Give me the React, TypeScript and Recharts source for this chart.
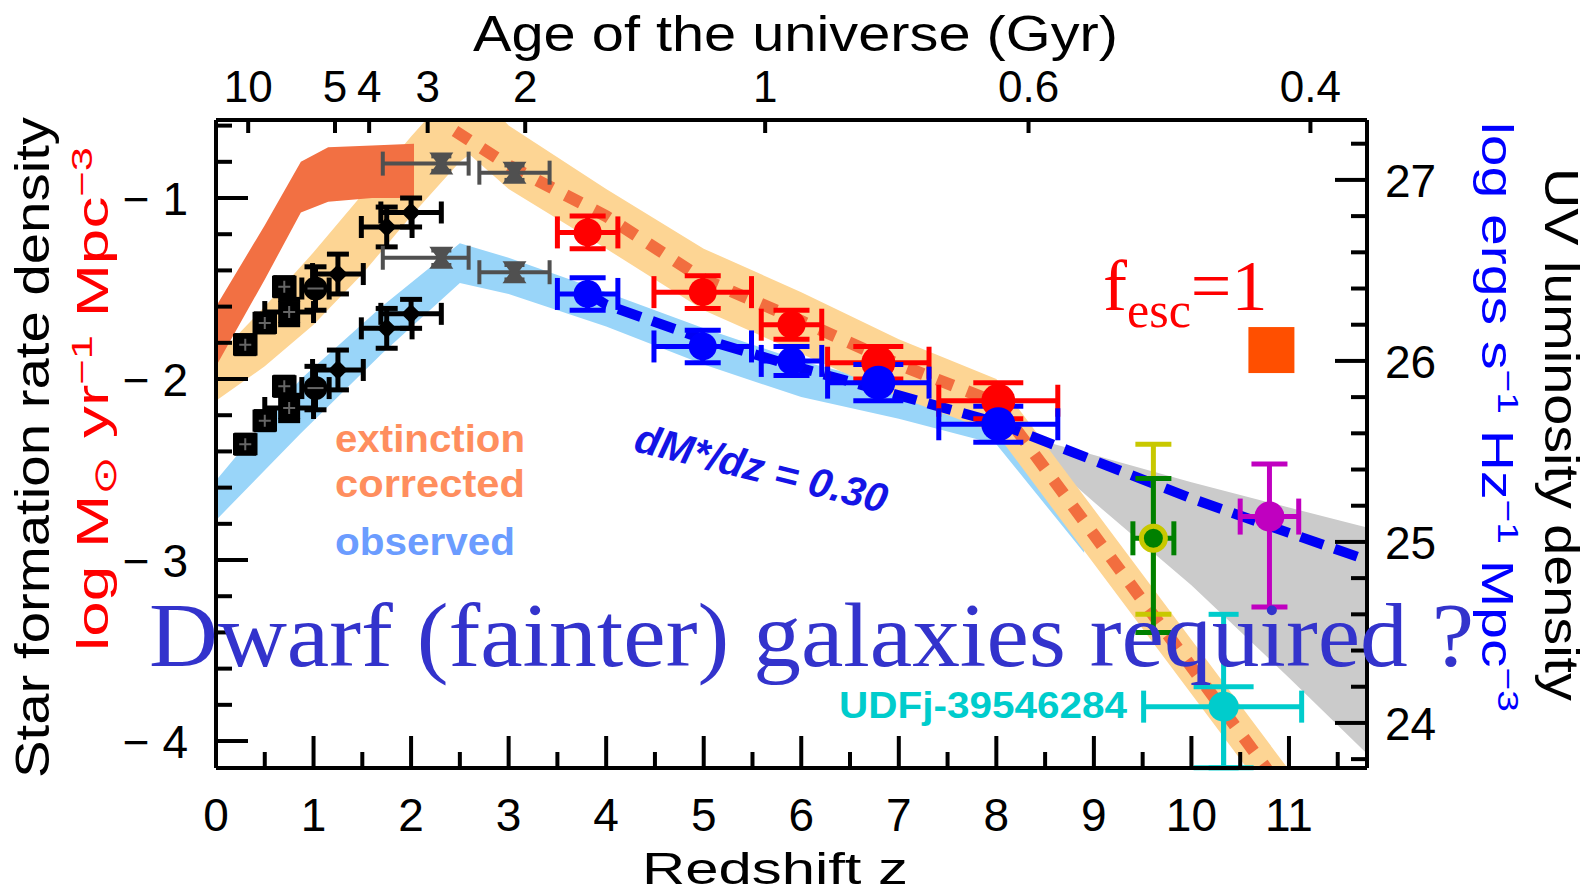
import React from "react";
import { ComposedChart, Area, Line, Scatter, XAxis, YAxis, ErrorBar } from "recharts";

// bands: redshift z and log SFR density edges
const darkBandZ = [0, 0.5, 0.87, 1.15, 1.6, 2.03];
const darkBandLo = [-1.93, -1.45, -1.08, -1.02, -1.0, -1.0];
const darkBandHi = [-1.6, -1.15, -0.8, -0.72, -0.71, -0.7];

const orangeBandZ = [0, 0.5, 1, 1.5, 2, 2.5, 2.6, 3, 4, 5, 6, 7, 8, 9, 10, 11, 11.8];
const orangeBandLo = [-2.12, -1.93, -1.7, -1.42, -1.1, -0.8, -0.76, -0.95, -1.28, -1.62, -1.86, -2.1, -2.3, -3.02, -3.74, -4.46, -5.04];
const orangeBandHi = [-1.88, -1.6, -1.3, -0.98, -0.66, -0.36, -0.36, -0.6, -0.95, -1.28, -1.52, -1.78, -2.0, -2.72, -3.44, -4.16, -4.74];

const blueBandZ = [0, 0.87, 1.7, 2.5, 3, 4, 5, 6, 7, 8, 8.9];
const blueBandLo = [-2.78, -2.3, -1.86, -1.47, -1.53, -1.71, -1.92, -2.1, -2.22, -2.36, -2.96];
const blueBandHi = [-2.56, -2.0, -1.6, -1.25, -1.33, -1.52, -1.72, -1.9, -2.04, -2.2, -2.85];

const grayBandZ = [8.26, 9, 10, 11, 11.8];
const grayBandLo = [-2.33, -2.68, -3.14, -3.65, -4.07];
const grayBandHi = [-2.31, -2.42, -2.57, -2.71, -2.82];

const dashOrangeZ = [2.45, 3, 4, 5, 6, 7, 8, 9, 10, 11];
const dashOrangeY = [-0.63, -0.82, -1.1, -1.45, -1.68, -1.92, -2.13, -2.86, -3.59, -4.32];

const dashBlueZ = [3.8, 4, 5, 6, 7, 8, 9, 10, 11, 11.8];
const dashBlueY = [-1.52, -1.59, -1.78, -1.94, -2.09, -2.24, -2.45, -2.66, -2.85, -3.0];

// low-z points (black)
const lowZ = [0.3, 0.5, 0.7, 0.75, 1.02, 1.25, 1.75, 2.0];
const lowZerr = [0.1, 0.1, 0.1, 0.25, 0.14, 0.26, 0.26, 0.31];
const lowCorr = [-1.81, -1.69, -1.49, -1.63, -1.5, -1.42, -1.16, -1.08];
const lowObs = [-2.36, -2.23, -2.04, -2.16, -2.05, -1.95, -1.72, -1.64];
const lowYerr = [0.05, 0.05, 0.05, 0.07, 0.12, 0.11, 0.11, 0.08];

// z~2-3 points (gray)
const midZ = [2.31, 3.06];
const midZlo = [0.6, 0.36];
const midZhi = [0.28, 0.36];
const midCorr = [-0.81, -0.86];
const midObs = [-1.33, -1.41];
const midYerr = [0.04, 0.04];

// LBG points z~4-8
const lbgZ = [3.81, 4.99, 5.9, 6.79, 8.02];
const lbgZerr = [0.31, 0.5, 0.31, 0.52, 0.61];
const lbgCorr = [-1.19, -1.52, -1.7, -1.91, -2.12];
const lbgObs = [-1.53, -1.82, -1.9, -2.02, -2.25];
const lbgCorrErr = [0.09, 0.09, 0.08, 0.09, 0.1];
const lbgObsErr = [0.09, 0.09, 0.08, 0.1, 0.1];

// high-z points
const z10Z = [9.61];
const z10Y = [-2.88];
const z10Zerr = [0.21];
const z10ErrIn = [[0.52, 0.33]];
const z10ErrOut = [[0.42, 0.52]];

const z11Z = [10.8];
const z11Y = [-2.76];
const z11Zerr = [0.3];
const z11Yerr = [[0.5, 0.29]];

const udfZ = [10.33];
const udfY = [-3.81];
const udfZerr = [[0.82, 0.8]];
const udfErrIn = [[0.338, 0.11]];
const udfErrOut = [[0.338, 0.51]];

const fescZ = [10.82];
const fescY = [-1.84];

// axes
const bottomTicks = [0, 0.5, 1, 1.5, 2, 2.5, 3, 3.5, 4, 4.5, 5, 5.5, 6, 6.5, 7, 7.5, 8, 8.5, 9, 9.5, 10, 10.5, 11, 11.5];
const leftTicks = [-4, -3.8, -3.6, -3.4, -3.2, -3, -2.8, -2.6, -2.4, -2.2, -2, -1.8, -1.6, -1.4, -1.2, -1, -0.8, -0.6];
const rightTicks = [23.8, 24, 24.2, 24.4, 24.6, 24.8, 25, 25.2, 25.4, 25.6, 25.8, 26, 26.2, 26.4, 26.6, 26.8, 27, 27.2];
const ageZ = [0.33, 1.22, 1.57, 2.17, 3.17, 5.63, 8.33, 11.22];
const ageLabels = ["10", "5", "4", "3", "2", "1", "0.6", "0.4"];

const Y_MIN = -4.149;
const Y_MAX = -0.569;
const UV_OFFSET = 27.9;
const Z_MAX = 11.8;

const W = 1594;
const H = 892;
const SANS = "'Liberation Sans', Arial, Helvetica, sans-serif";
const SERIF = "'Liberation Serif', 'Times New Roman', serif";

const band = (z: number[], lo: number[], hi: number[]) =>
  z.map((v, i) => ({ z: v, range: [lo[i], hi[i]] }));
const line = (z: number[], y: number[]) => z.map((v, i) => ({ z: v, y: y[i] }));
const pts = (z: number[], y: number[], ex: any[], ey: any[], ey2?: any[]) =>
  z.map((v, i) => ({ z: v, y: y[i], ex: ex[i], ey: ey[i], ey2: ey2 ? ey2[i] : 0 }));

const isMajor = (v: number) => Math.abs(v - Math.round(v)) < 1e-6;

const BottomTick = (p: any) => {
  const v = p.payload.value;
  const major = isMajor(v);
  return (
    <g>
      <line x1={p.x} y1={p.y} x2={p.x} y2={p.y - (major ? 32 : 16)} stroke="#000" strokeWidth={4} />
      {major && (
        <text x={p.x} y={p.y + 63} textAnchor="middle" fontSize={46} fontFamily={SANS} fill="#000">
          {v}
        </text>
      )}
    </g>
  );
};

const TopTick = (p: any) => {
  const idx = ageZ.indexOf(p.payload.value);
  return (
    <g>
      <line x1={p.x} y1={p.y} x2={p.x} y2={p.y + 13} stroke="#000" strokeWidth={4} />
      <text x={p.x} y={p.y - 18} textAnchor="middle" fontSize={44} fontFamily={SANS} fill="#000">
        {ageLabels[idx]}
      </text>
    </g>
  );
};

const LeftTick = (p: any) => {
  const v = p.payload.value;
  const major = isMajor(v);
  return (
    <g>
      <line x1={p.x} y1={p.y} x2={p.x + (major ? 32 : 16)} y2={p.y} stroke="#000" strokeWidth={4} />
      {major && (
        <text x={p.x - 28} y={p.y + 17} textAnchor="end" fontSize={46} fontFamily={SANS} fill="#000">
          {"\u2212 " + Math.abs(Math.round(v))}
        </text>
      )}
    </g>
  );
};

const RightTick = (p: any) => {
  const v = p.payload.value;
  const major = isMajor(v);
  return (
    <g>
      <line x1={p.x} y1={p.y} x2={p.x - (major ? 32 : 16)} y2={p.y} stroke="#000" strokeWidth={4} />
      {major && (
        <text x={p.x + 18} y={p.y + 17} textAnchor="start" fontSize={46} fontFamily={SANS} fill="#000">
          {Math.round(v)}
        </text>
      )}
    </g>
  );
};

const dot = (r: number, fill: string, stroke = "none", sw = 0) => (p: any) =>
  <circle cx={p.cx} cy={p.cy} r={r} fill={fill} stroke={stroke} strokeWidth={sw} />;

const squareShape = (p: any) => (
  <g>
    <rect x={p.cx - 11} y={p.cy - 11} width={22} height={22} fill="#000" />
    <path d={`M${p.cx - 6},${p.cy}H${p.cx + 6}M${p.cx},${p.cy - 6}V${p.cy + 6}`} stroke="#666" strokeWidth={2} />
  </g>
);
const circleShape = (p: any) => (
  <g>
    <circle cx={p.cx} cy={p.cy} r={12} fill="#000" />
    <line x1={p.cx - 8} y1={p.cy} x2={p.cx + 8} y2={p.cy} stroke="#666" strokeWidth={2} />
  </g>
);
const plusShape = (p: any) => (
  <rect x={p.cx - 7} y={p.cy - 7} width={14} height={14} fill="#000" transform={`rotate(45 ${p.cx} ${p.cy})`} />
);
const hourglass = (p: any) => (
  <polygon
    points={`${p.cx - 12},${p.cy - 11} ${p.cx + 12},${p.cy - 11} ${p.cx + 4},${p.cy} ${p.cx + 12},${p.cy + 11} ${p.cx - 12},${p.cy + 11} ${p.cx - 4},${p.cy}`}
    fill="#505050"
  />
);
const fescSquare = (p: any) => <rect x={p.cx - 23} y={p.cy - 23} width={46} height={46} fill="#ff4f00" />;

// ErrorBar "width" is the cap half-length
const eb = (key: string, dir: "x" | "y", half: number, color: string, sw = 5) => (
  <ErrorBar dataKey={key} direction={dir} width={half} stroke={color} strokeWidth={sw} isAnimationActive={false} />
);

export default function App() {
  const lowC = pts(lowZ, lowCorr, lowZerr, lowYerr);
  const lowO = pts(lowZ, lowObs, lowZerr, lowYerr);
  const midExs = midZ.map((_, i) => [midZlo[i], midZhi[i]]);
  const midC = pts(midZ, midCorr, midExs, midYerr);
  const midO = pts(midZ, midObs, midExs, midYerr);
  const lbgC = pts(lbgZ, lbgCorr, lbgZerr, lbgCorrErr);
  const lbgO = pts(lbgZ, lbgObs, lbgZerr, lbgObsErr);
  const axisLine = { stroke: "#000", strokeWidth: 4 };

  return (
    <div style={{ position: "absolute", left: 0, top: 0, width: W, height: H, background: "#fff" }}>
      <ComposedChart width={W} height={H} margin={{ top: 60, right: 167, bottom: 64, left: 156 }}>
        <Area xAxisId="b" yAxisId="l" data={band(grayBandZ, grayBandLo, grayBandHi)} dataKey="range" type="linear"
          stroke="none" fill="#cbcbcb" fillOpacity={1} dot={false} activeDot={false} isAnimationActive={false} />
        <Area xAxisId="b" yAxisId="l" data={band(blueBandZ, blueBandLo, blueBandHi)} dataKey="range" type="linear"
          stroke="none" fill="#99d5f9" fillOpacity={1} dot={false} activeDot={false} isAnimationActive={false} />
        <Area xAxisId="b" yAxisId="l" data={band(orangeBandZ, orangeBandLo, orangeBandHi)} dataKey="range" type="linear"
          stroke="none" fill="#fdd594" fillOpacity={1} dot={false} activeDot={false} isAnimationActive={false} />
        <Area xAxisId="b" yAxisId="l" data={band(darkBandZ, darkBandLo, darkBandHi)} dataKey="range" type="linear"
          stroke="none" fill="#f27043" fillOpacity={1} dot={false} activeDot={false} isAnimationActive={false} />

        <Line xAxisId="b" yAxisId="l" data={line(dashOrangeZ, dashOrangeY)} dataKey="y" type="linear"
          stroke="#f26e3f" strokeWidth={12} strokeDasharray="17 15" dot={false} activeDot={false} isAnimationActive={false} />
        <Line xAxisId="b" yAxisId="l" data={line(dashBlueZ, dashBlueY)} dataKey="y" type="linear"
          stroke="#0000f5" strokeWidth={10} strokeDasharray="24 12" dot={false} activeDot={false} isAnimationActive={false} />

        {/* low-z black points */}
        <Scatter xAxisId="b" yAxisId="l" data={lowC.slice(0, 4)} dataKey="y" shape={squareShape} isAnimationActive={false}>
          {eb("ex", "x", 11, "#000")}{eb("ey", "y", 11, "#000")}
        </Scatter>
        <Scatter xAxisId="b" yAxisId="l" data={lowC.slice(4, 5)} dataKey="y" shape={circleShape} isAnimationActive={false}>
          {eb("ex", "x", 11, "#000")}{eb("ey", "y", 11, "#000")}
        </Scatter>
        <Scatter xAxisId="b" yAxisId="l" data={lowC.slice(5)} dataKey="y" shape={plusShape} isAnimationActive={false}>
          {eb("ex", "x", 11, "#000")}{eb("ey", "y", 11, "#000")}
        </Scatter>
        <Scatter xAxisId="b" yAxisId="l" data={lowO.slice(0, 4)} dataKey="y" shape={squareShape} isAnimationActive={false}>
          {eb("ex", "x", 11, "#000")}{eb("ey", "y", 11, "#000")}
        </Scatter>
        <Scatter xAxisId="b" yAxisId="l" data={lowO.slice(4, 5)} dataKey="y" shape={circleShape} isAnimationActive={false}>
          {eb("ex", "x", 11, "#000")}{eb("ey", "y", 11, "#000")}
        </Scatter>
        <Scatter xAxisId="b" yAxisId="l" data={lowO.slice(5)} dataKey="y" shape={plusShape} isAnimationActive={false}>
          {eb("ex", "x", 11, "#000")}{eb("ey", "y", 11, "#000")}
        </Scatter>

        {/* z~2-3 gray points */}
        <Scatter xAxisId="b" yAxisId="l" data={midC} dataKey="y" shape={hourglass} isAnimationActive={false}>
          {eb("ex", "x", 12, "#505050", 4)}{eb("ey", "y", 10, "#505050", 4)}
        </Scatter>
        <Scatter xAxisId="b" yAxisId="l" data={midO} dataKey="y" shape={hourglass} isAnimationActive={false}>
          {eb("ex", "x", 12, "#505050", 4)}{eb("ey", "y", 10, "#505050", 4)}
        </Scatter>

        {/* LBG corrected (red) and observed (blue) */}
        <Scatter xAxisId="b" yAxisId="l" data={lbgC.slice(0, 3)} dataKey="y" shape={dot(14, "#ff0000")} isAnimationActive={false}>
          {eb("ex", "x", 16, "#ff0000")}{eb("ey", "y", 18, "#ff0000")}
        </Scatter>
        <Scatter xAxisId="b" yAxisId="l" data={lbgC.slice(3)} dataKey="y" shape={dot(17, "#ff0000")} isAnimationActive={false}>
          {eb("ex", "x", 16, "#ff0000")}{eb("ey", "y", 25, "#ff0000")}
        </Scatter>
        <Scatter xAxisId="b" yAxisId="l" data={lbgO.slice(0, 3)} dataKey="y" shape={dot(14, "#0000ff")} isAnimationActive={false}>
          {eb("ex", "x", 16, "#0000ff")}{eb("ey", "y", 18, "#0000ff")}
        </Scatter>
        <Scatter xAxisId="b" yAxisId="l" data={lbgO.slice(3)} dataKey="y" shape={dot(17, "#0000ff")} isAnimationActive={false}>
          {eb("ex", "x", 16, "#0000ff")}{eb("ey", "y", 25, "#0000ff")}
        </Scatter>

        {/* z~10 candidates */}
        <Scatter xAxisId="b" yAxisId="l" data={pts(z10Z, z10Y, z10Zerr, z10ErrOut)} dataKey="y" shape={() => <g />} isAnimationActive={false}>
          {eb("ey", "y", 18, "#c8c800")}
        </Scatter>
        <Scatter xAxisId="b" yAxisId="l" data={pts(z10Z, z10Y, z10Zerr, z10ErrIn)} dataKey="y"
          shape={dot(12, "#008000", "#c8c800", 5)} isAnimationActive={false}>
          {eb("ey", "y", 18, "#008000")}{eb("ex", "x", 17, "#008000")}
        </Scatter>
        <Scatter xAxisId="b" yAxisId="l" data={pts(z11Z, z11Y, z11Zerr, z11Yerr)} dataKey="y" shape={dot(15, "#c000c0")} isAnimationActive={false}>
          {eb("ey", "y", 18, "#c000c0")}{eb("ex", "x", 18, "#c000c0")}
        </Scatter>
        <Scatter xAxisId="b" yAxisId="l" data={pts(udfZ, udfY, udfZerr, udfErrOut, udfErrIn)} dataKey="y" shape={dot(15, "#00cccc")} isAnimationActive={false}>
          {eb("ey", "y", 15, "#00cccc")}{eb("ey2", "y", 30, "#00cccc")}{eb("ex", "x", 16, "#00cccc")}
        </Scatter>
        <Scatter xAxisId="b" yAxisId="l" data={line(fescZ, fescY)} dataKey="y" shape={fescSquare} isAnimationActive={false} />

        <XAxis xAxisId="b" dataKey="z" type="number" domain={[0, Z_MAX]} allowDataOverflow ticks={bottomTicks} interval={0}
          height={60} tickSize={0} tickMargin={0} tickLine={false} axisLine={axisLine} tick={BottomTick} />
        <XAxis xAxisId="t" orientation="top" dataKey="z" type="number" domain={[0, Z_MAX]} allowDataOverflow ticks={ageZ} interval={0}
          height={60} tickSize={0} tickMargin={0} tickLine={false} axisLine={axisLine} tick={TopTick} />
        <YAxis yAxisId="l" dataKey="y" type="number" domain={[Y_MIN, Y_MAX]} allowDataOverflow ticks={leftTicks} interval={0}
          width={60} tickSize={0} tickMargin={0} tickLine={false} axisLine={axisLine} tick={LeftTick} />
        <YAxis yAxisId="r" orientation="right" type="number" domain={[Y_MIN + UV_OFFSET, Y_MAX + UV_OFFSET]} allowDataOverflow
          ticks={rightTicks} interval={0} width={60} tickSize={0} tickMargin={0} tickLine={false} axisLine={axisLine} tick={RightTick} />
      </ComposedChart>

      <svg width={W} height={H} style={{ position: "absolute", left: 0, top: 0, pointerEvents: "none" }}>
        <text x={473} y={51} fontSize={50} fontFamily={SANS} textLength={645} lengthAdjust="spacingAndGlyphs">
          Age of the universe (Gyr)
        </text>
        <text x={642} y={884} fontSize={44} fontFamily={SANS} textLength={266} lengthAdjust="spacingAndGlyphs">
          Redshift z
        </text>
        <text transform="translate(49,778) rotate(-90)" fontSize={48} fontFamily={SANS} textLength={661} lengthAdjust="spacingAndGlyphs">
          Star formation rate density
        </text>
        <text transform="translate(108,651) rotate(-90)" fontSize={44} fontFamily={SANS} fill="#ff0000"
          textLength={504} lengthAdjust="spacingAndGlyphs">
          log M<tspan fontSize={32} dy={8}>{"\u2299"}</tspan>
          <tspan dy={-8}> yr</tspan>
          <tspan fontSize={30} dy={-16}>{"\u22121"}</tspan>
          <tspan dy={16}> Mpc</tspan>
          <tspan fontSize={30} dy={-16}>{"\u22123"}</tspan>
        </text>
        <text transform="translate(1482,122) rotate(90)" fontSize={44} fontFamily={SANS} fill="#0000ff"
          textLength={590} lengthAdjust="spacingAndGlyphs">
          log ergs s<tspan fontSize={30} dy={-16}>{"\u22121"}</tspan>
          <tspan dy={16}> Hz</tspan>
          <tspan fontSize={30} dy={-16}>{"\u22121"}</tspan>
          <tspan dy={16}> Mpc</tspan>
          <tspan fontSize={30} dy={-16}>{"\u22123"}</tspan>
        </text>
        <text transform="translate(1545,168) rotate(90)" fontSize={48} fontFamily={SANS} textLength={533} lengthAdjust="spacingAndGlyphs">
          UV luminosity density
        </text>

        <text x={335} y={452} fontSize={38} fontWeight="bold" fontFamily={SANS} fill="#ff8e5e" textLength={190} lengthAdjust="spacingAndGlyphs">
          extinction
        </text>
        <text x={335} y={497} fontSize={38} fontWeight="bold" fontFamily={SANS} fill="#ff8e5e" textLength={190} lengthAdjust="spacingAndGlyphs">
          corrected
        </text>
        <text x={335} y={555} fontSize={38} fontWeight="bold" fontFamily={SANS} fill="#6b9cff" textLength={180} lengthAdjust="spacingAndGlyphs">
          observed
        </text>
        <text transform="translate(758,482) rotate(14)" textAnchor="middle" fontSize={41} fontWeight="bold" fontStyle="italic"
          fontFamily={SANS} fill="#1414e6">
          dM*/dz = 0.30
        </text>
        <text x={1103} y={310} fontSize={72} fontFamily={SERIF} fill="#ff0000">
          f<tspan fontSize={50} dy={17}>esc</tspan>
          <tspan fontSize={72} dy={-17}>=1</tspan>
        </text>
        <text x={839} y={718} fontSize={36} fontWeight="bold" fontFamily={SANS} fill="#00cccc" textLength={288} lengthAdjust="spacingAndGlyphs">
          UDFj-39546284
        </text>
        <text x={149} y={666} fontSize={90} fontFamily={SERIF} fill="#3333cc" textLength={1325} lengthAdjust="spacingAndGlyphs">
          Dwarf (fainter) galaxies required ?
        </text>
      </svg>
    </div>
  );
}
